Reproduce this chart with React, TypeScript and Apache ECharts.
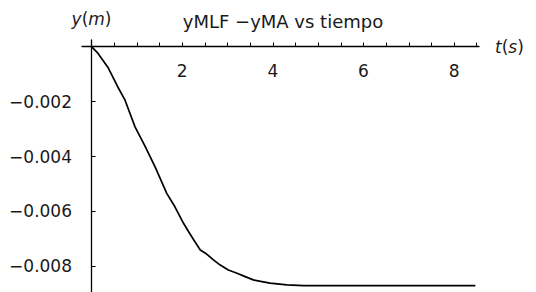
import React, { useEffect, useRef } from "react";
import * as echarts from "echarts";

// time (s)
const timeValues = [
  0, 0.14, 0.36, 0.58, 0.74, 0.96, 1.18, 1.4, 1.66, 1.84, 2.03, 2.14, 2.25, 2.4,
  2.54, 2.69, 2.84, 3.02, 3.21, 3.39, 3.57, 3.76, 3.94, 4.31, 4.68, 8.47,
];
// yMLF - yMA (m)
const diffValues = [
  0, -0.00024, -0.00075, -0.00147, -0.00195, -0.00292, -0.00362, -0.00437,
  -0.00534, -0.00583, -0.00643, -0.00673, -0.00702, -0.0074, -0.00755, -0.00776,
  -0.00795, -0.00813, -0.00825, -0.00837, -0.00849, -0.00855, -0.00861, -0.00867,
  -0.0087, -0.0087,
];
const xTickValues = [
  0.5, 1, 1.5, 2, 2.5, 3, 3.5, 4, 4.5, 5, 5.5, 6, 6.5, 7, 7.5, 8, 8.5,
];
const xLabelValues = [2, 4, 6, 8];
const yTickValues = [-0.008, -0.006, -0.004, -0.002];
const titleText = "yMLF −yMA vs tiempo";

const FONT = "DejaVu Sans";

export default function App() {
  const ref = useRef<HTMLDivElement>(null);
  useEffect(() => {
    const chart = echarts.init(ref.current!, null, { renderer: "svg" });
    const data = timeValues.map((t, i) => [t, diffValues[i]]);
    chart.setOption({
      animation: false,
      backgroundColor: "#fff",
      grid: {
        left: 82,
        right: 57,
        top: 40,
        bottom: 0,
        containLabel: false,
        outerBoundsMode: "none",
      },
      graphic: [
        {
          type: "text",
          x: 283,
          y: 21,
          style: {
            text: titleText,
            fontFamily: FONT,
            fontSize: 18,
            fill: "#1a1a1a",
            textAlign: "center",
            textVerticalAlign: "middle",
          },
        },
      ],
      xAxis: {
        type: "value",
        position: "top",
        offset: -6.6,
        min: -0.21,
        max: 8.55,
        name: "{i|t}{n|(}{i|s}{n|)}",
        nameLocation: "end",
        nameGap: 16,
        nameTextStyle: {
          verticalAlign: "middle",
          rich: {
            i: { fontFamily: FONT, fontSize: 17, fontStyle: "italic", color: "#1a1a1a" },
            n: { fontFamily: FONT, fontSize: 17, color: "#1a1a1a" },
          },
        },
        axisLine: { onZero: false, lineStyle: { color: "#000", width: 1.3 } },
        axisTick: {
          show: true,
          inside: false,
          length: 4,
          customValues: xTickValues,
          lineStyle: { color: "#000", width: 1 },
        },
        axisLabel: {
          inside: true,
          customValues: xLabelValues,
          margin: 16,
          fontFamily: FONT,
          fontSize: 17,
          color: "#1a1a1a",
        },
        splitLine: { show: false },
      },
      yAxis: {
        type: "value",
        min: -0.00893,
        max: 0.00024,
        name: "{i|y}{n|(}{i|m}{n|)}",
        nameLocation: "end",
        nameGap: 13,
        nameTextStyle: {
          rich: {
            i: { fontFamily: FONT, fontSize: 17, fontStyle: "italic", color: "#1a1a1a" },
            n: { fontFamily: FONT, fontSize: 17, color: "#1a1a1a" },
          },
        },
        axisLine: { onZero: true, lineStyle: { color: "#000", width: 1.3 } },
        axisTick: {
          show: true,
          inside: true,
          length: 4,
          customValues: yTickValues,
          lineStyle: { color: "#000", width: 1 },
        },
        axisLabel: {
          customValues: yTickValues,
          margin: 10,
          fontFamily: FONT,
          fontSize: 17,
          color: "#1a1a1a",
          formatter: (v: number) => "−" + Math.abs(v).toFixed(3),
        },
        splitLine: { show: false },
      },
      series: [
        {
          type: "line",
          data,
          showSymbol: false,
          lineStyle: { color: "#000", width: 1.7 },
        },
      ],
    });
    return () => chart.dispose();
  }, []);
  return (
    <div
      ref={ref}
      style={{ position: "fixed", left: 0, top: 0, width: 536, height: 292, background: "#fff" }}
    />
  );
}
